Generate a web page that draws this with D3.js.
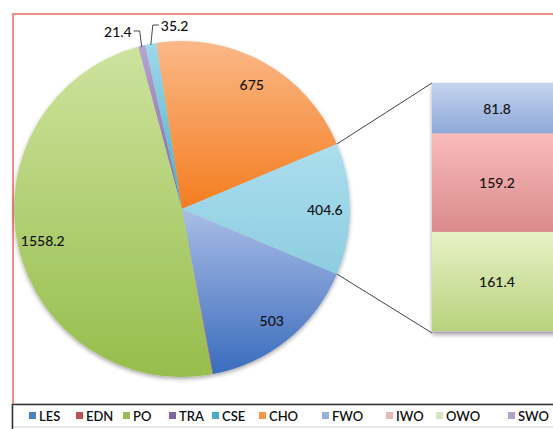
<!DOCTYPE html>
<html>
<head>
<meta charset="utf-8">
<script src="https://cdn.jsdelivr.net/npm/d3@7"></script>
<style>
  html, body { margin: 0; padding: 0; background: #fff; }
  svg { display: block; }
  text { font-family: Lato, "Open Sans", sans-serif; fill: #111; }
</style>
</head>
<body>
<svg id="chart" width="553" height="429"></svg>
<script>
// Main pie categories and values
const pieCategories = ["LES", "EDN", "PO", "TRA", "CSE", "CHO"];
const pieValues = [503, 2, 1558.2, 21.4, 35.2, 675];
// Categories broken out into the stacked bar
const barCategories = ["FWO", "IWO", "OWO", "SWO"];
const barValues = [81.8, 159.2, 161.4, 2.2];
// Legend order
const legendCategories = ["LES", "EDN", "PO", "TRA", "CSE", "CHO", "FWO", "IWO", "OWO", "SWO"];

// Fill colours: [top tint, bottom shade]
const colors = {
  LES: ["#aabde6", "#3a6cbd"],
  EDN: ["#e07a78", "#c0504d"],
  PO:  ["#cde39d", "#96bd4c"],
  TRA: ["#b7a4d0", "#8064a2"],
  CSE: ["#9fd8ea", "#4bacc6"],
  CHO: ["#fab887", "#f47d20"],
  OTHER: ["#acdeee", "#8ccde0"],
  FWO: ["#c4d4ee", "#8ea8d8"],
  IWO: ["#f9bcbb", "#d98b8a"],
  OWO: ["#e8f1c6", "#b6d27c"],
  SWO: ["#c4b6d8", "#a797c0"]
};
const legendColors = {
  LES: "#4f81bd", EDN: "#c0504d", PO: "#9bbb59", TRA: "#8064a2", CSE: "#4bacc6",
  CHO: "#f79646", FWO: "#95b3d7", IWO: "#e6b9b8", OWO: "#d7e4bd", SWO: "#b3a2c7"
};

const fmt = v => String(+v.toFixed(1));

const svg = d3.select("#chart");
const defs = svg.append("defs");

// vertical gradient per category
Object.entries(colors).forEach(([k, c]) => {
  const g = defs.append("linearGradient").attr("id", "g-" + k)
    .attr("x1", 0).attr("y1", 0).attr("x2", 0).attr("y2", 1);
  g.append("stop").attr("offset", "0%").attr("stop-color", c[0]);
  g.append("stop").attr("offset", "100%").attr("stop-color", c[1]);
});

const shadow = defs.append("filter").attr("id", "shadow")
  .attr("x", "-10%").attr("y", "-10%").attr("width", "120%").attr("height", "125%");
shadow.append("feGaussianBlur").attr("in", "SourceAlpha").attr("stdDeviation", 2).attr("result", "b");
shadow.append("feOffset").attr("in", "b").attr("dx", 0).attr("dy", 2).attr("result", "o");
shadow.append("feComponentTransfer").attr("in", "o").attr("result", "s")
  .append("feFuncA").attr("type", "linear").attr("slope", 0.35);
const merge = shadow.append("feMerge");
merge.append("feMergeNode").attr("in", "s");
merge.append("feMergeNode").attr("in", "SourceGraphic");

// Chart frame
svg.append("path")
  .attr("d", "M13,404 L13,14 L560,14")
  .attr("fill", "none").attr("stroke", "#f28c8c").attr("stroke-width", 2);

// Pie layout
const cx = 182, cy = 209, R = 168;
const otherValue = d3.sum(barValues);
const pieData = pieCategories.map((c, i) => ({ key: c, value: pieValues[i] }))
  .concat([{ key: "OTHER", value: otherValue }]);
const total = d3.sum(pieData, d => d.value);
// rotate so the combined slice points straight at the bar
const offset = Math.PI / 2 - (1 - otherValue / (2 * total)) * 2 * Math.PI;
const pie = d3.pie().sort(null).value(d => d.value)
  .startAngle(offset).endAngle(offset + 2 * Math.PI);
const arcs = pie(pieData);
const arc = d3.arc().innerRadius(0).outerRadius(R);
const labelArc = d3.arc().innerRadius(R * 0.85).outerRadius(R * 0.85);

const pieG = svg.append("g").attr("transform", `translate(${cx},${cy})`);
const slices = pieG.append("g").attr("filter", "url(#shadow)");
slices.selectAll("path").data(arcs).join("path")
  .attr("d", arc)
  .attr("fill", d => `url(#g-${d.data.key})`);

// inside labels for the larger slices
arcs.filter(d => d.value > 100).forEach(d => {
  const [x, y] = labelArc.centroid(d);
  pieG.append("text").attr("x", x).attr("y", y)
    .attr("text-anchor", "middle").attr("dominant-baseline", "central")
    .attr("font-size", 14).attr("font-weight", 500).text(fmt(d.value));
});

// outside labels with leader lines for the thin slices
const leaderSpec = { TRA: { side: -1, y: -178 }, CSE: { side: 1, y: -184 } };
arcs.filter(d => leaderSpec[d.data.key]).forEach(d => {
  const s = leaderSpec[d.data.key];
  const a = (d.startAngle + d.endAngle) / 2;
  const px = R * Math.sin(a), py = -R * Math.cos(a);
  const kx = px + s.side * 2, ex = kx + s.side * 6;
  pieG.append("path")
    .attr("d", `M${px},${py + 1} L${kx},${s.y} L${ex},${s.y}`)
    .attr("fill", "none").attr("stroke", "#333").attr("stroke-width", 0.9);
  pieG.append("text").attr("x", ex + s.side * 2).attr("y", s.y)
    .attr("text-anchor", s.side < 0 ? "end" : "start")
    .attr("dominant-baseline", "central")
    .attr("font-size", 14).attr("font-weight", 500).text(fmt(d.value));
});

// Stacked bar for the broken-out categories
const barX = 432, barW = 150, barTop = 83, barBottom = 333;
const yBar = d3.scaleLinear().domain([0, otherValue]).range([barTop, barBottom]);
let acc = 0;
const barData = barCategories.map((c, i) => {
  const d = { key: c, y0: acc, y1: acc + barValues[i], value: barValues[i] };
  acc += barValues[i];
  return d;
});
const barG = svg.append("g").attr("filter", "url(#shadow)");
barG.selectAll("rect").data(barData).join("rect")
  .attr("x", barX).attr("width", barW)
  .attr("y", d => yBar(d.y0))
  .attr("height", d => yBar(d.y1) - yBar(d.y0))
  .attr("fill", d => `url(#g-${d.key})`);
svg.selectAll("text.barlabel").data(barData.filter(d => yBar(d.y1) - yBar(d.y0) > 12)).join("text")
  .attr("class", "barlabel")
  .attr("x", 497)
  .attr("y", d => (yBar(d.y0) + yBar(d.y1)) / 2)
  .attr("text-anchor", "middle").attr("dominant-baseline", "central")
  .attr("font-size", 14).attr("font-weight", 500).text(d => fmt(d.value));

// connector lines from the combined slice to the bar
const other = arcs[arcs.length - 1];
[[other.startAngle, barTop], [other.endAngle, barBottom]].forEach(([a, by]) => {
  svg.append("line")
    .attr("x1", cx + R * Math.sin(a)).attr("y1", cy - R * Math.cos(a))
    .attr("x2", barX).attr("y2", by)
    .attr("stroke", "#444").attr("stroke-width", 1);
});

// Legend
svg.append("rect").attr("x", 12).attr("y", 404).attr("width", 560).attr("height", 23)
  .attr("fill", "#fff").attr("stroke", "#d0d0d0");
svg.append("path").attr("d", "M12.5,429 L12.5,404.5 L553,404.5")
  .attr("fill", "none").attr("stroke", "#333").attr("stroke-width", 1.5);
const legendX = [29, 76, 123, 169, 212, 259, 322, 386, 436, 508];
const lg = svg.selectAll("g.leg").data(legendCategories).join("g")
  .attr("class", "leg")
  .attr("transform", (d, i) => `translate(${legendX[i]},416)`);
lg.append("rect").attr("x", 0).attr("y", -4).attr("width", 7).attr("height", 7)
  .attr("fill", d => legendColors[d]);
lg.append("text").attr("x", 10).attr("y", 0).attr("dominant-baseline", "central")
  .attr("font-size", 13).attr("font-weight", 600).attr("fill", "#222").text(d => d);
</script>
</body>
</html>
